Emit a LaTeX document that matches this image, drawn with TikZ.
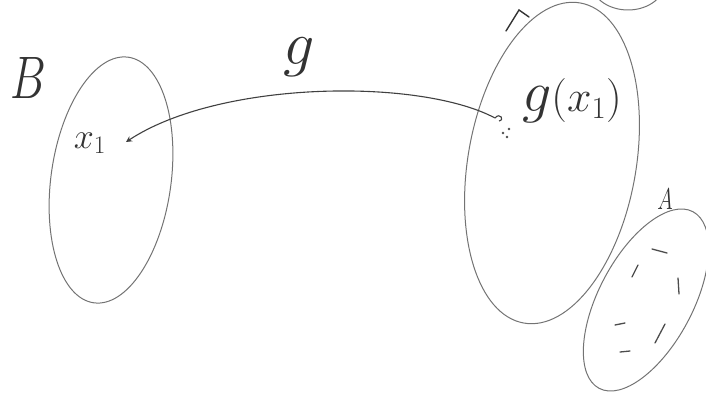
\RequirePackage{fix-cm}
\documentclass[tikz,border=0pt]{standalone}
\usepackage{graphicx}
\usetikzlibrary{shapes.geometric,arrows.meta}
\begin{document}
\begin{tikzpicture}[x=1pt,y=-1pt,
  setline/.style={draw=black!55,line width=1pt},
  blob/.style={setline,ellipse,inner sep=0pt},
  hand/.style={text=black!80,inner sep=0pt},
  tick/.style={draw=black!70,line width=1.3pt,line cap=round}]
\useasboundingbox (0,0) rectangle (706,401);
\clip (0,0) rectangle (706,401);
% sets
\node[blob,minimum width=120,minimum height=248,rotate=-8] (B) at (111,180) {};
\node[blob,minimum width=168,minimum height=325,rotate=-10] (C) at (552,163) {};
\node[blob,minimum width=200,minimum height=94,rotate=62] (A) at (646,300) {};
\node[blob,minimum width=76,minimum height=60] (D) at (628,-20) {};
\draw[line width=1.4pt,black!80,line cap=round] (506,31) -- (519,10) -- (529,17);
% labels
\node[hand,font=\fontsize{60}{60}\selectfont] (lB) at (28,78) {\scalebox{0.75}[1]{$B$}};
\node[hand,font=\fontsize{30}{30}\selectfont] (lA) at (665,199) {\scalebox{0.7}[1]{$A$}};
\node[hand,font=\fontsize{36}{36}\selectfont] (x1) at (90,143) {$x_1$};
\coordinate (x1d) at (126,142);
\node[hand,anchor=base west] (gx) at (522,112)
  {\fontsize{58}{58}\selectfont$g$\fontsize{44}{44}\selectfont$(x_1)$};
\node[hand,font=\fontsize{62}{62}\selectfont] (g) at (299,57) {$g$};
\coordinate (gs) at (495,118);
\fill[black!70] (503,133) circle (1.3) (509,129) circle (1.3) (507,137) circle (1.3);
% map
\draw[draw=black!75,line width=1.1pt,-{Stealth[length=6pt,width=6pt]}]
  (gs) .. controls (420,78) and (220,80) .. (x1d);
\draw[draw=black!75,line width=1.1pt] (gs) .. controls (500,112) and (505,120) .. (499,121);
% elements of A
\draw[tick] (652,249) -- (667,253);
\draw[tick] (638,265) -- (632,277);
\draw[tick] (678,278) -- (679,294);
\draw[tick] (615,325) -- (625,323);
\draw[tick] (665,324) -- (655,343);
\draw[tick] (620,352) -- (630,351);
\end{tikzpicture}
\end{document}
